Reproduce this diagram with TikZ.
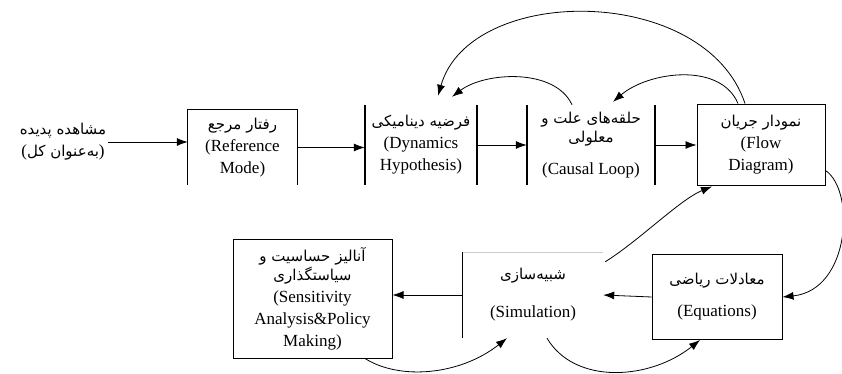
\documentclass[tikz,border=0pt]{standalone}
\usepackage{fontspec}
\setmainfont{Liberation Serif}
\newfontfamily\persianfont[Script=Arabic]{DejaVu Sans}
\TeXXeTstate=1
\usepackage{tikz}
\usetikzlibrary{calc}
\usetikzlibrary{arrows.meta}
\newcommand{\fa}[1]{{\persianfont\fontsize{15}{19}\selectfont\beginR #1\endR}}
\tikzset{box/.style={rectangle,draw=black,line width=1pt,inner sep=2pt,align=center}}
\tikzset{open/.style={rectangle,inner sep=2pt,align=center}}
\tikzset{flow/.style={-{Latex[length=11pt,width=8pt]},line width=0.8pt}}

\begin{document}
\begin{tikzpicture}[x=1pt,y=-1pt,font=\fontsize{17}{22}\selectfont]
\useasboundingbox (0,0) rectangle (842,374);
% top row
\node[open] (obs) at (63,142) {\fa{مشاهده پدیده}\\(\fa{به‌عنوان کل})};
\node[open,minimum width=109pt,minimum height=75pt] (rm) at (242.5,147.5) {\fa{رفتار مرجع}\\(Reference\\Mode)};
\node[open,minimum width=112pt,minimum height=80pt] (dh) at (421,145) {\fa{فرضیه دینامیکی}\\(Dynamics\\Hypothesis)};
\node[open,minimum width=128pt,minimum height=80pt] (cl) at (591,145) {\fa{حلقه‌های علت و}\\[-3pt]\fa{معلولی}\\[10pt](Causal Loop)};
\node[box,minimum width=128pt,minimum height=80pt] (fd) at (761,145) {\fa{نمودار جریان}\\(Flow\\Diagram)};
\draw[line width=1pt] (rm.south west) -- (rm.north west) -- (rm.north east) -- (rm.south east);
\draw[line width=1.6pt] (dh.north west) -- (dh.south west) (dh.north east) -- (dh.south east);
\draw[line width=1.6pt] (cl.north west) -- (cl.south west) (cl.north east) -- (cl.south east);
% bottom row
\node[box,minimum width=130pt,minimum height=85pt] (eq) at (717,297) {\fa{معادلات ریاضی}\\[10pt](Equations)};
\node[open,minimum width=140pt,minimum height=86pt] (sim) at (533,295) {\fa{شبیه‌سازی}\\[16pt](Simulation)};
\node[box,minimum width=159pt,minimum height=119pt] (sa) at (312.5,298.5) {\fa{آنالیز حساسیت و}\\[-3pt]\fa{سیاستگذاری}\\(Sensitivity\\Analysis\&Policy\\Making)};
\draw[line width=0.8pt] (sim.north west) -- (sim.south west);
\draw[black!20] (sim.north west) -- (sim.north east);
% straight arrows
\draw[flow] (obs.east) -- (obs.east -| rm.west);
\draw[flow] (rm.east) -- (rm.east -| dh.west);
\draw[flow] (dh.east) -- (cl.west);
\draw[flow] (cl.east) -- (fd.west);
\draw[flow] (eq.west) -- (sim.east);
\draw[flow] (sim.west) -- (sim.west -| sa.east);
% feedback arcs
\draw[flow] ($(cl.north)+(-19,0)$) .. controls +(-17,-37) and +(33,-25) .. ($(dh.north)+(31,-8)$);
\draw[flow] ($(fd.north)+(-16,-1)$) .. controls +(-40,-120) and +(32,-112) .. ($(dh.north)+(17,-9)$);
\draw[flow] ($(fd.north)+(-23,-1)$) .. controls +(-18,-42) and +(35,-30) .. ($(cl.north)+(22,-3)$);
\draw[flow] ($(fd.south east)+(0,-15)$) .. controls +(30,20) and +(68,-7) .. (eq.east);
\draw[flow] ($(sim.north east)+(2,10)$) .. controls +(35,-22) and +(-32,13) .. ($(fd.south)+(-49,1)$);
\draw[flow] ($(sa.south)+(52.5,0)$) .. controls +(35,22) and +(-47,37) .. ($(sim.south)+(-26,0)$);
\draw[flow] ($(sim.south)+(14,0)$) .. controls +(28,47) and +(-50,40) .. ($(eq.south)+(-17,0)$);
\end{tikzpicture}
\end{document}
